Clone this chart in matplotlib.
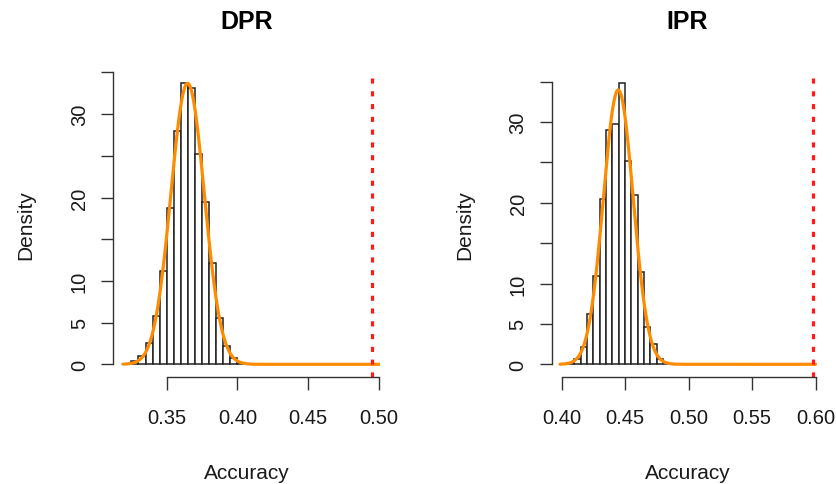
"""
Bootstrap accuracy histograms, DPR vs IPR
"""
import numpy as np
import matplotlib
matplotlib.use("Agg")
import matplotlib.pyplot as plt

plt.rcParams['font.family'] = ['Liberation Sans', 'DejaVu Sans']

# histogram data (density per bin of width 0.005)
dpr_breaks = [0.320, 0.325, 0.330, 0.335, 0.340, 0.345, 0.350, 0.355, 0.360,
              0.365, 0.370, 0.375, 0.380, 0.385, 0.390, 0.395, 0.400, 0.405]
dpr_density = [0.08, 0.36, 1.04, 2.6, 5.8, 11.2, 18.8, 28.0, 33.7,
               33.1, 25.2, 19.5, 12.1, 5.6, 2.2, 0.72, 0.1]
dpr_mean, dpr_sd = 0.3648, 0.01184
dpr_obs = 0.4952

ipr_breaks = [0.400, 0.405, 0.410, 0.415, 0.420, 0.425, 0.430, 0.435, 0.440,
              0.445, 0.450, 0.455, 0.460, 0.465, 0.470, 0.475, 0.480, 0.485]
ipr_density = [0.05, 0.15, 0.66, 2.2, 6.2, 10.9, 20.4, 29.0, 29.7,
               34.8, 25.2, 21.0, 11.4, 4.6, 2.5, 0.66, 0.1]
ipr_mean, ipr_sd = 0.4446, 0.01175
ipr_obs = 0.598

dpr_ticks = [0.35, 0.40, 0.45, 0.50]
ipr_ticks = [0.40, 0.45, 0.50, 0.55, 0.60]
y_ticks = [0, 5, 10, 15, 20, 25, 30, 35]
y_labels = ['0', '5', '10', '', '20', '', '30', '']

W, H = 837, 485
fig = plt.figure(figsize=(W / 100, H / 100), dpi=100)


def px_axes(x0, x1, y_top, y_bot):
    return fig.add_axes([x0 / W, (H - y_bot) / H, (x1 - x0) / W, (y_bot - y_top) / H])


def panel(ax, breaks, dens, mu, sd, obs, xticks, xlim, ylim, curve_rng, title):
    ax.bar(breaks[:-1], dens, width=np.diff(breaks), align='edge',
           facecolor='white', edgecolor='#222222', linewidth=1.1)
    xs = np.linspace(curve_rng[0], curve_rng[1], 400)
    ys = np.exp(-0.5 * ((xs - mu) / sd) ** 2) / (sd * np.sqrt(2 * np.pi))
    ax.plot(xs, ys, color='#FF8C00', linewidth=2.3, solid_capstyle='round')
    ax.axvline(obs, color='#ff1a1a', linewidth=2.3, linestyle=(0, (1.6, 2.4)))
    ax.set_xlim(*xlim)
    ax.set_ylim(*ylim)
    for s in ['top', 'right']:
        ax.spines[s].set_visible(False)
    ax.spines['left'].set_bounds(0, 35)
    ax.spines['bottom'].set_bounds(xticks[0], xticks[-1])
    for s in ['left', 'bottom']:
        ax.spines[s].set_color('#333333')
        ax.spines[s].set_linewidth(1.0)
    ax.set_xticks(xticks)
    ax.set_xticklabels(['%.2f' % t for t in xticks])
    ax.set_yticks(y_ticks)
    ax.set_yticklabels(y_labels, rotation=90, va='center')
    ax.tick_params(length=9, width=1.0, color='#333333', labelsize=14.5,
                   labelcolor='#1a1a1a')
    ax.tick_params(axis='x', pad=13)
    ax.tick_params(axis='y', pad=8.5)
    ax.set_xlabel('Accuracy', fontsize=15, labelpad=26, color='#1a1a1a')
    ax.set_ylabel('Density', fontsize=15, labelpad=25, color='#1a1a1a')
    ax.set_title(title, fontsize=18, fontweight='bold', pad=32)
    ax.patch.set_alpha(0)


ax1 = px_axes(113.3, 380, 73, 378)
panel(ax1, dpr_breaks, dpr_density, dpr_mean, dpr_sd, dpr_obs, dpr_ticks,
      (0.3122, 0.501), (-1.52, 35.05), (0.319, 0.501), 'DPR')

ax2 = px_axes(552, 823, 73, 378)
panel(ax2, ipr_breaks, ipr_density, ipr_mean, ipr_sd, ipr_obs, ipr_ticks,
      (0.3924, 0.6059), (-1.57, 36.18), (0.3987, 0.600), 'IPR')

fig.savefig('out.png', dpi=100)
